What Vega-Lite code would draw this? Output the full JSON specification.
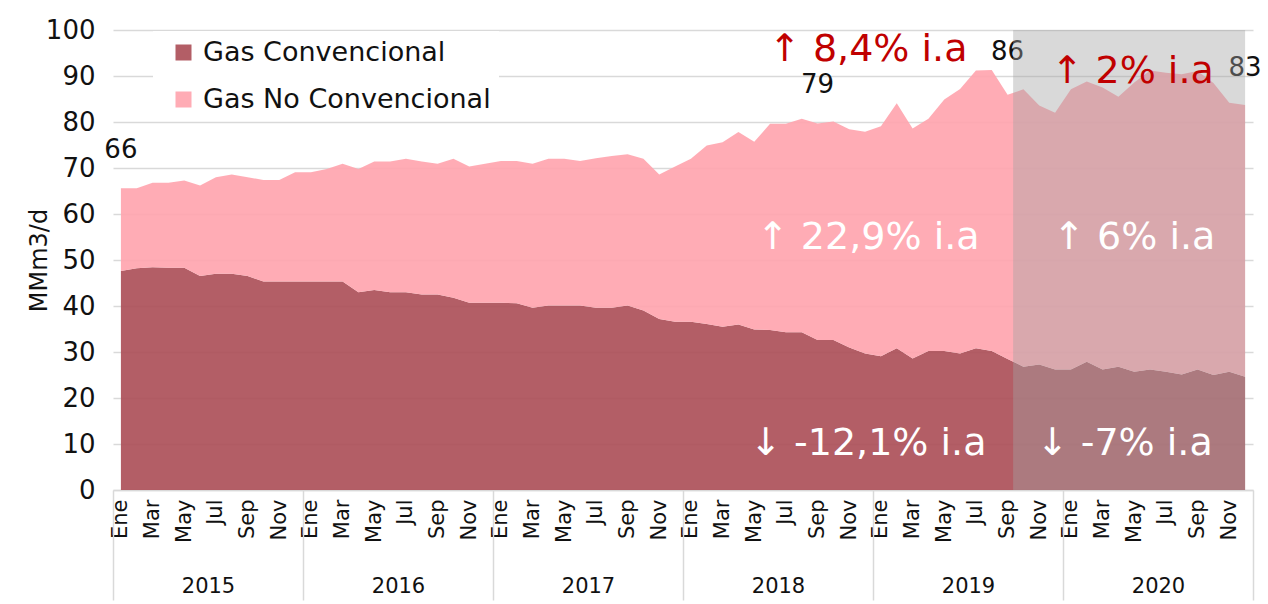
{
  "$schema": "https://vega.github.io/schema/vega-lite/v6.json",
  "width": 1140,
  "height": 460,
  "autosize": "none",
  "padding": {"left": 113, "top": 30, "right": 15, "bottom": 114},
  "background": "white",
  "config": {
    "font": "DejaVu Sans",
    "view": {"stroke": null},
    "axis": {"labelColor": "#111", "titleColor": "#111"}
  },
  "datasets": {
    "gas": [
      {"i": 0, "convencional": 47.6, "no_convencional": 18.0},
      {"i": 1, "convencional": 48.2, "no_convencional": 17.4},
      {"i": 2, "convencional": 48.4, "no_convencional": 18.4},
      {"i": 3, "convencional": 48.3, "no_convencional": 18.5},
      {"i": 4, "convencional": 48.3, "no_convencional": 19.0},
      {"i": 5, "convencional": 46.5, "no_convencional": 19.7},
      {"i": 6, "convencional": 47.0, "no_convencional": 21.0},
      {"i": 7, "convencional": 47.0, "no_convencional": 21.6},
      {"i": 8, "convencional": 46.5, "no_convencional": 21.5},
      {"i": 9, "convencional": 45.3, "no_convencional": 22.1},
      {"i": 10, "convencional": 45.3, "no_convencional": 22.1},
      {"i": 11, "convencional": 45.3, "no_convencional": 23.8},
      {"i": 12, "convencional": 45.3, "no_convencional": 23.8},
      {"i": 13, "convencional": 45.3, "no_convencional": 24.5},
      {"i": 14, "convencional": 45.3, "no_convencional": 25.6},
      {"i": 15, "convencional": 43.0, "no_convencional": 26.8},
      {"i": 16, "convencional": 43.5, "no_convencional": 27.9},
      {"i": 17, "convencional": 43.0, "no_convencional": 28.4},
      {"i": 18, "convencional": 43.0, "no_convencional": 29.0},
      {"i": 19, "convencional": 42.5, "no_convencional": 28.9},
      {"i": 20, "convencional": 42.5, "no_convencional": 28.4},
      {"i": 21, "convencional": 41.8, "no_convencional": 30.2},
      {"i": 22, "convencional": 40.7, "no_convencional": 29.6},
      {"i": 23, "convencional": 40.7, "no_convencional": 30.2},
      {"i": 24, "convencional": 40.7, "no_convencional": 30.8},
      {"i": 25, "convencional": 40.6, "no_convencional": 30.9},
      {"i": 26, "convencional": 39.6, "no_convencional": 31.3},
      {"i": 27, "convencional": 40.1, "no_convencional": 31.9},
      {"i": 28, "convencional": 40.1, "no_convencional": 31.9},
      {"i": 29, "convencional": 40.1, "no_convencional": 31.4},
      {"i": 30, "convencional": 39.6, "no_convencional": 32.5},
      {"i": 31, "convencional": 39.6, "no_convencional": 33.0},
      {"i": 32, "convencional": 40.1, "no_convencional": 32.9},
      {"i": 33, "convencional": 39.0, "no_convencional": 33.0},
      {"i": 34, "convencional": 37.2, "no_convencional": 31.4},
      {"i": 35, "convencional": 36.6, "no_convencional": 33.7},
      {"i": 36, "convencional": 36.6, "no_convencional": 35.4},
      {"i": 37, "convencional": 36.1, "no_convencional": 38.8},
      {"i": 38, "convencional": 35.5, "no_convencional": 40.1},
      {"i": 39, "convencional": 36.0, "no_convencional": 41.8},
      {"i": 40, "convencional": 34.9, "no_convencional": 40.8},
      {"i": 41, "convencional": 34.8, "no_convencional": 44.8},
      {"i": 42, "convencional": 34.3, "no_convencional": 45.3},
      {"i": 43, "convencional": 34.3, "no_convencional": 46.4},
      {"i": 44, "convencional": 32.6, "no_convencional": 47.1},
      {"i": 45, "convencional": 32.6, "no_convencional": 47.5},
      {"i": 46, "convencional": 31.0, "no_convencional": 47.4},
      {"i": 47, "convencional": 29.7, "no_convencional": 48.2},
      {"i": 48, "convencional": 29.1, "no_convencional": 50.0},
      {"i": 49, "convencional": 30.8, "no_convencional": 53.3},
      {"i": 50, "convencional": 28.6, "no_convencional": 50.0},
      {"i": 51, "convencional": 30.2, "no_convencional": 50.5},
      {"i": 52, "convencional": 30.2, "no_convencional": 54.7},
      {"i": 53, "convencional": 29.7, "no_convencional": 57.5},
      {"i": 54, "convencional": 30.8, "no_convencional": 60.4},
      {"i": 55, "convencional": 30.2, "no_convencional": 61.1},
      {"i": 56, "convencional": 28.5, "no_convencional": 57.4},
      {"i": 57, "convencional": 26.8, "no_convencional": 60.3},
      {"i": 58, "convencional": 27.3, "no_convencional": 56.3},
      {"i": 59, "convencional": 26.2, "no_convencional": 55.8},
      {"i": 60, "convencional": 26.2, "no_convencional": 60.9},
      {"i": 61, "convencional": 27.9, "no_convencional": 60.9},
      {"i": 62, "convencional": 26.2, "no_convencional": 61.3},
      {"i": 63, "convencional": 26.8, "no_convencional": 58.7},
      {"i": 64, "convencional": 25.7, "no_convencional": 62.9},
      {"i": 65, "convencional": 26.2, "no_convencional": 65.0},
      {"i": 66, "convencional": 25.7, "no_convencional": 65.0},
      {"i": 67, "convencional": 25.1, "no_convencional": 65.3},
      {"i": 68, "convencional": 26.2, "no_convencional": 64.9},
      {"i": 69, "convencional": 25.0, "no_convencional": 63.5},
      {"i": 70, "convencional": 25.7, "no_convencional": 58.5},
      {"i": 71, "convencional": 24.6, "no_convencional": 59.1}
    ],
    "etiquetas": [
      {"i": 0, "v": 73.9, "texto": "66"},
      {"i": 44, "v": 88.0, "texto": "79"},
      {"i": 56, "v": 95.2, "texto": "86"},
      {"i": 71, "v": 91.7, "texto": "83"}
    ],
    "sombra": [
      {"inicio": 56.35, "fin": 71, "ymin": 0, "ymax": 100}
    ],
    "rojas": [
      {"i": 47.2, "v": 95.7, "texto": "↑ 8,4% i.a"},
      {"i": 63.9, "v": 90.9, "texto": "↑ 2% i.a"}
    ],
    "blancas": [
      {"i": 47.2, "v": 54.8, "texto": "↑ 22,9% i.a"},
      {"i": 64.0, "v": 54.8, "texto": "↑ 6% i.a"},
      {"i": 47.2, "v": 10.1, "texto": "↓ -12,1% i.a"},
      {"i": 63.4, "v": 10.1, "texto": "↓ -7% i.a"}
    ]
  },
  "layer": [
    {
      "data": {"name": "gas"},
      "transform": [{"fold": ["convencional", "no_convencional"], "as": ["serie", "valor"]}],
      "mark": {"type": "area", "opacity": 0.9, "interpolate": "linear"},
      "encoding": {
        "x": {
          "field": "i", "type": "quantitative",
          "scale": {"domain": [-0.5, 71.5], "nice": false, "zero": false},
          "axis": {
            "title": null, "orient": "bottom",
            "values": [0, 2, 4, 6, 8, 10, 12, 14, 16, 18, 20, 22, 24, 26, 28, 30, 32, 34, 36, 38, 40, 42, 44, 46, 48, 50, 52, 54, 56, 58, 60, 62, 64, 66, 68, 70],
            "labelExpr": "['Ene','Feb','Mar','Abr','May','Jun','Jul','Ago','Sep','Oct','Nov','Dic'][datum.value % 12]",
            "labelAngle": -90, "labelAlign": "right", "labelBaseline": "middle",
            "labelFontSize": 21, "labelPadding": 9, "labelOverlap": false, "labelFlush": false,
            "ticks": false, "grid": false, "domain": true, "domainColor": "#d9d9d9", "domainWidth": 1.5
          }
        },
        "y": {
          "field": "valor", "type": "quantitative", "stack": "zero",
          "scale": {"domain": [0, 100], "nice": false},
          "axis": {
            "title": "MMm3/d", "orient": "left",
            "values": [0, 10, 20, 30, 40, 50, 60, 70, 80, 90, 100],
            "labelFontSize": 26, "labelPadding": 18,
            "ticks": false, "domain": false, "grid": true, "gridColor": "#d9d9d9", "gridWidth": 1.5,
            "titleFontSize": 24, "titleFontWeight": "normal", "titleX": -74, "titleY": 230,
            "titleAlign": "center", "titleBaseline": "middle", "titleAngle": -90
          }
        },
        "color": {
          "field": "serie", "type": "nominal",
          "scale": {"domain": ["convencional", "no_convencional"], "range": ["#ab4d55", "#ffa3ad"]},
          "legend": {
            "title": null, "orient": "none", "legendX": 40, "legendY": 1,
            "fillColor": "white", "padding": 8, "direction": "vertical",
            "symbolType": "square", "symbolSize": 256, "symbolOffset": 9, "symbolOpacity": 0.9, "symbolStrokeWidth": 0,
            "labelFontSize": 27, "labelOffset": 6, "rowPadding": 19, "labelLimit": 500, "labelColor": "#111",
            "labelExpr": "datum.label == 'convencional' ? 'Gas Convencional' : 'Gas No Convencional'"
          }
        },
        "order": {"field": "serie", "sort": "ascending"}
      }
    },
    {
      "data": {"name": "etiquetas"},
      "mark": {"type": "text", "fontSize": 26, "color": "#111", "align": "center", "baseline": "middle"},
      "encoding": {
        "x": {
          "field": "i", "type": "quantitative",
          "scale": {"domain": [-0.5, 71.5], "nice": false, "zero": false},
          "axis": {
            "title": null, "orient": "bottom",
            "values": [5.5, 17.5, 29.5, 41.5, 53.5, 65.5],
            "labelExpr": "'' + (2015 + floor(datum.value / 12))",
            "labelAngle": 0, "labelBaseline": "top", "labelFontSize": 21, "labelPadding": 85,
            "ticks": false, "domain": false, "grid": false
          }
        },
        "y": {"field": "v", "type": "quantitative", "axis": null},
        "text": {"field": "texto"}
      }
    },
    {
      "data": {"name": "sombra"},
      "mark": {"type": "rect", "color": "#a3a3a3", "opacity": 0.41},
      "encoding": {
        "x": {
          "field": "inicio", "type": "quantitative",
          "scale": {"domain": [-0.5, 71.5], "nice": false, "zero": false},
          "axis": {
            "title": null, "orient": "bottom",
            "values": [-0.5, 11.5, 23.5, 35.5, 47.5, 59.5, 71.5],
            "labels": false, "ticks": true, "tickSize": 110, "tickColor": "#d9d9d9", "tickWidth": 1.5,
            "domain": false, "grid": false
          }
        },
        "x2": {"field": "fin"},
        "y": {"field": "ymin", "type": "quantitative", "axis": null},
        "y2": {"field": "ymax"}
      }
    },
    {
      "data": {"name": "rojas"},
      "mark": {"type": "text", "fontSize": 38, "color": "#c00000", "align": "center", "baseline": "middle"},
      "encoding": {
        "x": {"field": "i", "type": "quantitative", "scale": {"domain": [-0.5, 71.5], "nice": false, "zero": false}, "axis": null},
        "y": {"field": "v", "type": "quantitative", "axis": null},
        "text": {"field": "texto"}
      }
    },
    {
      "data": {"name": "blancas"},
      "mark": {"type": "text", "fontSize": 38, "color": "white", "align": "center", "baseline": "middle"},
      "encoding": {
        "x": {"field": "i", "type": "quantitative", "scale": {"domain": [-0.5, 71.5], "nice": false, "zero": false}, "axis": null},
        "y": {"field": "v", "type": "quantitative", "axis": null},
        "text": {"field": "texto"}
      }
    }
  ],
  "resolve": {"axis": {"x": "independent", "y": "independent"}}
}
